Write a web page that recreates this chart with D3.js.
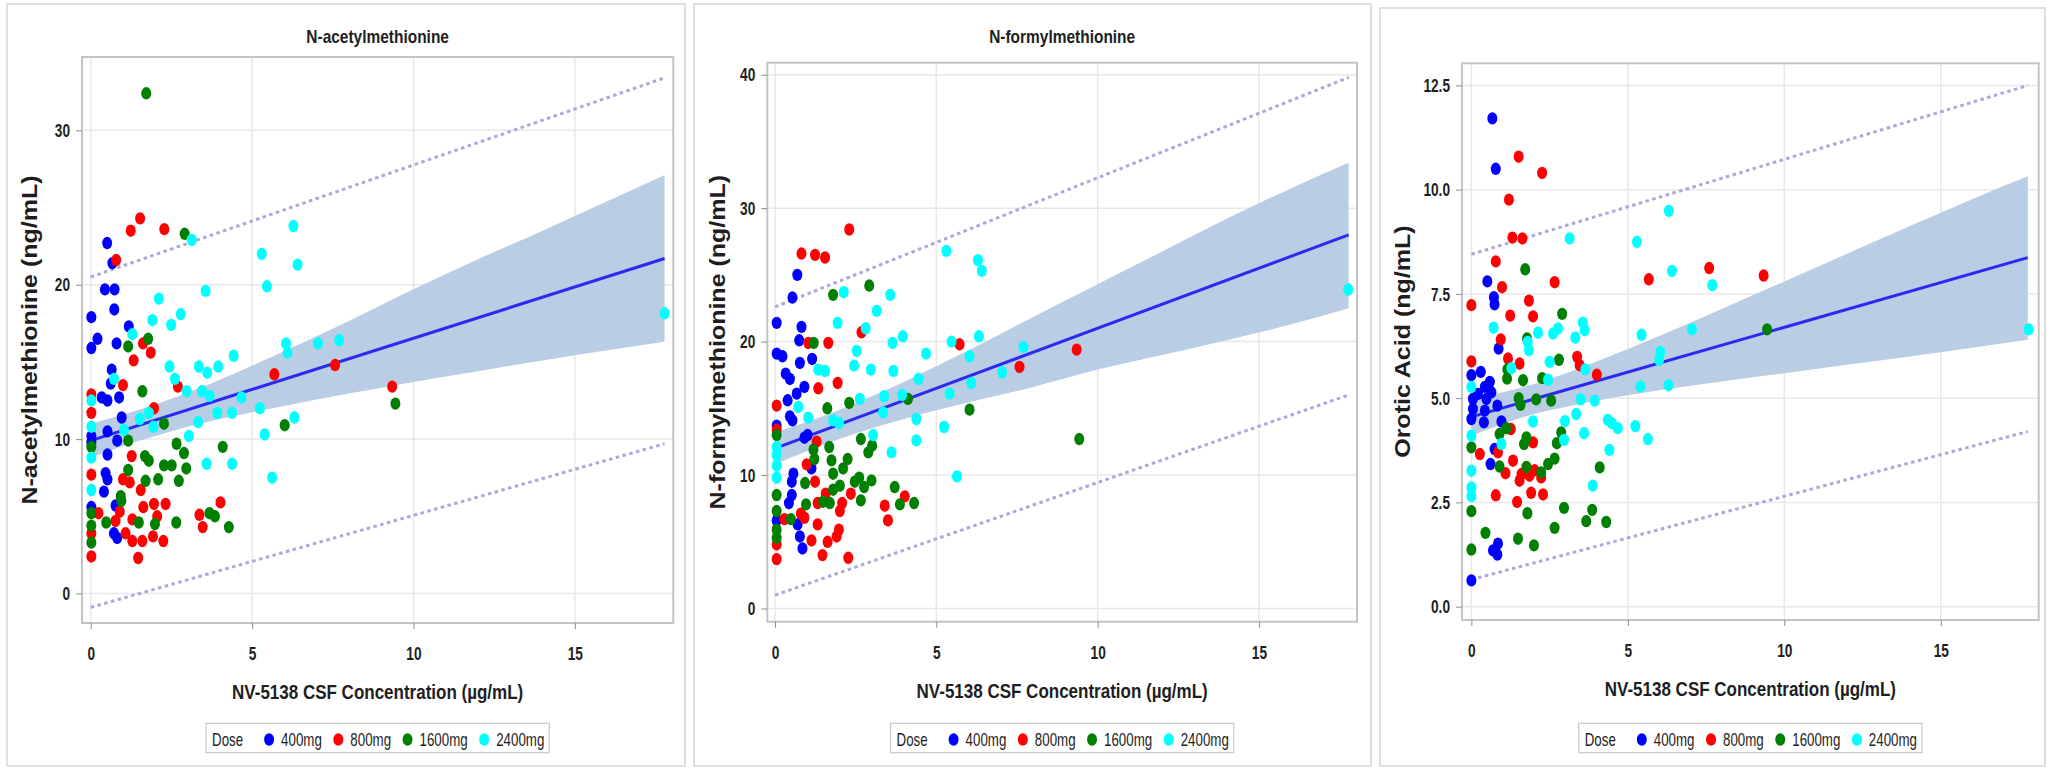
<!DOCTYPE html>
<html>
<head>
<meta charset="utf-8">
<script src="https://cdn.jsdelivr.net/npm/d3@7"></script>
<style>
  body { margin: 0; background: #fff; }
  svg { display: block; font-family: "Liberation Sans", Arial, sans-serif; }
</style>
</head>
<body>
<svg id="chart" width="2047" height="768"></svg>
<script>
// dose groups
const doses = ["400mg", "800mg", "1600mg", "2400mg"];
const doseColors = ["#0000ff", "#ff0000", "#008000", "#00ffff"];

// tick values
const xTicks = [0, 5, 10, 15];
const acetylYTicks = [0, 10, 20, 30];
const formylYTicks = [0, 10, 20, 30, 40];
const oroticYTicks = [0, 2.5, 5, 7.5, 10, 12.5];

// N-acetylmethionine points [CSF conc, ng/mL]
const acetyl400 = [[0.51,22.7],[0.67,21.4],[0.44,19.7],[0.74,19.7],[0.73,18.4],[0.02,17.9],[1.18,17.3],[0.21,16.5],[0.80,16.2],[0.02,15.9],[0.65,14.5],[0.62,13.6],[0.34,12.7],[0.52,12.5],[0.88,12.7],[0.96,11.4],[0.52,10.5],[0.82,9.9],[0.02,10.2],[0.02,9.8],[0.52,9.0],[0.46,7.8],[0.52,7.4],[0.41,6.6],[0.02,5.6],[0.77,5.7],[0.72,3.9],[0.82,3.6]];
const acetyl800 = [[1.53,24.3],[1.24,23.5],[2.28,23.6],[0.79,21.6],[1.62,16.2],[1.86,15.6],[1.33,15.1],[1.0,13.5],[2.70,13.4],[5.69,14.2],[7.57,14.8],[0.02,12.9],[0.02,11.7],[1.96,12.0],[1.27,8.9],[0.02,7.7],[1.0,7.4],[1.21,7.2],[1.55,6.7],[4.02,5.9],[1.96,5.8],[2.32,5.8],[1.63,5.6],[0.90,5.3],[0.24,5.2],[2.06,5.0],[3.37,5.1],[3.47,4.3],[0.77,4.7],[1.29,4.8],[0.02,3.9],[1.08,3.9],[1.29,3.4],[1.60,3.4],[1.93,3.7],[2.25,3.4],[0.02,2.4],[1.47,2.3],[9.34,13.4]];
const acetyl1600 = [[1.72,32.4],[2.91,23.3],[1.78,16.5],[1.16,16.0],[1.60,13.1],[2.27,11.0],[6.01,10.9],[1.16,9.9],[0.02,9.5],[2.66,9.7],[2.89,9.1],[4.09,9.5],[1.68,8.9],[1.80,8.6],[2.27,8.3],[2.51,8.3],[2.96,8.1],[1.16,8.0],[1.70,7.3],[2.09,7.4],[2.73,7.3],[0.93,6.3],[0.95,6.0],[0.02,5.2],[3.68,5.2],[3.85,5.0],[4.28,4.3],[2.65,4.6],[0.48,4.6],[1.49,4.6],[1.99,4.5],[0.02,4.4],[0.02,3.3],[9.44,12.3]];
const acetyl2400 = [[3.13,22.9],[6.28,23.8],[5.30,22.0],[6.41,21.3],[5.46,19.9],[3.56,19.6],[2.11,19.1],[2.79,18.1],[1.91,17.7],[2.49,17.4],[1.29,16.8],[6.05,16.2],[7.04,16.2],[7.70,16.4],[6.1,15.6],[4.43,15.4],[2.44,14.7],[3.35,14.7],[3.61,14.3],[3.95,14.7],[0.72,13.9],[2.61,13.9],[2.97,13.1],[3.45,13.1],[3.69,12.8],[4.67,12.7],[0.02,12.5],[5.24,12.0],[1.52,11.3],[1.80,11.7],[3.92,11.7],[4.38,11.7],[3.33,11.1],[1.94,10.8],[0.02,10.8],[1.03,10.6],[6.31,11.4],[5.39,10.3],[3.04,10.2],[0.02,8.8],[3.59,8.4],[4.38,8.4],[5.62,7.5],[0.02,6.7],[17.78,18.15]];

// N-formylmethionine points
const formyl400 = [[0.69,25.0],[0.54,23.3],[0.05,21.4],[0.82,21.1],[0.75,20.1],[0.05,19.1],[0.23,18.9],[0.77,18.4],[1.15,18.7],[0.33,17.6],[0.46,17.2],[0.91,16.6],[0.67,16.1],[0.39,15.6],[0.46,14.4],[0.54,14.1],[0.05,13.7],[0.91,12.8],[1.01,13.0],[1.13,10.5],[0.57,10.1],[0.52,9.5],[0.52,8.5],[0.43,7.9],[0.05,6.6],[0.70,6.3],[0.77,5.4],[0.85,4.5]];
const formyl800 = [[2.30,28.4],[0.82,26.6],[1.24,26.5],[1.55,26.3],[2.68,20.7],[1.03,19.9],[1.65,19.9],[5.72,19.8],[1.94,16.9],[1.34,16.5],[7.58,18.1],[0.05,15.2],[0.05,13.4],[1.29,12.5],[0.98,10.8],[1.24,9.5],[1.57,8.6],[2.35,8.6],[4.02,8.4],[1.32,7.9],[2.08,7.9],[3.40,7.7],[2.01,7.3],[0.80,7.1],[3.50,6.6],[0.29,6.7],[0.91,6.8],[1.32,6.3],[1.98,5.9],[1.13,5.1],[1.91,5.4],[1.63,5.0],[0.05,4.8],[1.47,4.0],[2.27,3.8],[0.05,3.7],[9.35,19.4]];
const formyl1600 = [[2.92,24.2],[1.80,23.5],[1.20,19.9],[4.12,15.7],[2.30,15.4],[1.62,15.0],[6.03,14.9],[0.05,13.0],[2.66,12.7],[3.01,12.2],[2.89,11.7],[1.68,12.1],[1.19,11.9],[1.22,11.2],[1.75,11.1],[2.25,11.2],[2.11,10.5],[1.80,10.1],[0.93,9.4],[2.01,9.2],[2.47,9.5],[2.61,9.8],[2.76,9.1],[2.99,9.6],[3.71,9.1],[1.80,8.9],[0.05,8.5],[0.96,7.8],[1.49,8.0],[1.70,7.9],[2.66,8.1],[3.87,7.8],[4.31,7.9],[0.05,7.3],[0.49,6.7],[0.05,5.9],[0.05,5.3],[9.43,12.7]];
const formyl2400 = [[5.31,26.8],[6.29,26.1],[6.41,25.3],[2.13,23.7],[3.57,23.5],[3.15,22.3],[1.94,21.4],[2.81,21.0],[3.96,20.4],[6.32,20.4],[3.64,19.9],[5.47,20.0],[7.70,19.6],[2.53,19.3],[4.68,19.1],[6.03,18.9],[2.45,18.2],[1.34,17.9],[1.55,17.8],[2.97,17.9],[3.67,17.8],[4.45,17.2],[7.04,17.7],[6.08,16.9],[5.41,16.1],[3.94,16.0],[3.38,15.9],[2.63,15.7],[0.72,15.1],[3.35,14.7],[1.03,14.3],[1.80,14.1],[1.98,13.9],[4.38,14.2],[5.24,13.6],[3.04,13.0],[4.38,12.6],[0.05,12.1],[0.05,11.5],[3.61,11.7],[0.05,10.7],[0.05,9.8],[5.64,9.9],[17.77,23.9]];

// Orotic acid points
const orotic400 = [[0.67,11.71],[0.78,10.50],[0.51,7.80],[0.72,7.42],[0.74,7.25],[0.87,6.19],[0.0,5.55],[0.30,5.63],[0.59,5.39],[0.43,5.27],[0.64,5.14],[0.05,4.98],[0.21,5.10],[0.48,4.98],[0.83,4.82],[0.05,4.74],[0.43,4.70],[0.0,4.50],[0.40,4.42],[0.96,4.44],[0.74,3.78],[0.61,3.42],[0.85,1.51],[0.69,1.35],[0.83,1.25],[0.0,0.63]];
const orotic800 = [[1.51,10.79],[2.26,10.40],[1.20,9.76],[1.31,8.85],[1.63,8.83],[0.78,8.28],[7.60,8.12],[5.67,7.85],[0.98,7.66],[2.66,7.78],[0.0,7.23],[1.84,7.34],[1.24,6.98],[1.97,6.96],[0.94,6.41],[0.0,5.88],[1.17,5.95],[1.54,5.83],[3.38,5.99],[3.46,5.79],[4.01,5.56],[1.26,4.26],[1.97,3.94],[0.27,3.66],[0.85,3.70],[1.33,3.50],[1.09,3.20],[1.60,3.18],[2.02,3.27],[1.86,3.14],[2.23,3.10],[1.54,3.02],[0.78,2.67],[1.91,2.73],[2.29,2.69],[1.46,2.51],[9.34,7.94]];
const orotic1600 = [[1.72,8.09],[2.90,7.02],[1.78,6.43],[2.80,5.92],[1.15,5.69],[1.14,5.47],[1.65,5.43],[2.26,5.48],[1.51,5.00],[1.57,4.84],[2.07,4.97],[2.55,4.94],[1.12,4.28],[0.90,4.14],[0.0,3.82],[1.76,4.06],[1.68,3.90],[2.87,4.18],[2.73,3.92],[0.90,3.36],[2.45,3.42],[2.66,3.55],[1.76,3.35],[2.23,3.22],[4.10,3.34],[0.0,2.29],[1.79,2.24],[2.96,2.37],[3.86,2.32],[3.67,2.05],[4.31,2.03],[2.66,1.89],[0.45,1.77],[1.49,1.63],[2.00,1.47],[0.0,1.37],[9.45,6.65]];
const orotic2400 = [[6.31,9.49],[3.14,8.83],[5.29,8.75],[6.41,8.05],[7.70,7.71],[0.71,6.69],[2.13,6.57],[2.61,6.55],[2.77,6.67],[3.56,6.81],[3.62,6.63],[3.32,6.45],[5.44,6.52],[7.05,6.65],[1.84,6.15],[1.80,6.35],[6.04,6.11],[6.00,5.92],[1.28,5.72],[2.45,5.44],[2.50,5.87],[3.64,5.69],[5.40,5.28],[6.30,5.31],[0.0,5.27],[3.49,4.97],[3.94,4.94],[3.35,4.62],[1.97,4.44],[2.99,4.45],[4.36,4.48],[4.49,4.40],[4.68,4.28],[5.24,4.33],[5.64,4.02],[3.60,4.16],[0.0,4.10],[0.96,3.90],[2.96,4.00],[4.41,3.76],[0.0,3.26],[3.88,2.90],[0.0,2.86],[0.0,2.65],[17.81,6.65]];

// regression fit, confidence band and prediction limits
const lineX = [0, 17.78];
const bandX = [0, 1, 2, 3, 4, 6, 8, 10, 12, 14, 16, 17.78];
const acetylFit = [9.9, 21.7];
const acetylPredLo = [-0.9, 9.7];
const acetylPredHi = [20.5, 33.4];
const acetylBandLo = [8.8, 9.55, 10.2, 10.8, 11.3, 12.15, 12.95, 13.7, 14.4, 15.1, 15.75, 16.3];
const acetylBandHi = [11.0, 11.6, 12.25, 13.0, 13.85, 15.7, 17.65, 19.7, 21.65, 23.5, 25.4, 27.1];
const formylFit = [12.0, 28.0];
const formylPredLo = [1.0, 16.0];
const formylPredHi = [22.6, 39.8];
const formylBandLo = [10.8, 11.8, 12.7, 13.5, 14.2, 15.45, 16.6, 17.9, 19.0, 20.1, 21.3, 22.5];
const formylBandHi = [13.2, 14.0, 14.9, 15.9, 17.0, 19.35, 21.85, 24.3, 26.75, 29.2, 31.5, 33.4];
const oroticFit = [4.55, 8.37];
const oroticPredLo = [0.65, 4.2];
const oroticPredHi = [8.45, 12.5];
const oroticBandLo = [4.10, 4.38, 4.62, 4.79, 4.94, 5.19, 5.40, 5.60, 5.80, 6.00, 6.21, 6.40];
const oroticBandHi = [5.00, 5.14, 5.34, 5.59, 5.88, 6.49, 7.14, 7.80, 8.46, 9.12, 9.77, 10.32];

const panels = [
  {title: "N-acetylmethionine", yLabel: "N-acetylmethionine (ng/mL)",
   series: [acetyl400, acetyl800, acetyl1600, acetyl2400], yTicks: acetylYTicks, yFmt: d3.format("d"),
   fit: acetylFit, predLo: acetylPredLo, predHi: acetylPredHi, bandLo: acetylBandLo, bandHi: acetylBandHi,
   box: [7, 4, 685, 766], plot: {l: 82, r: 673.3, t: 57, b: 623}, xDom: [-0.27, 18.05], yDom: [-1.91, 34.75], yTitleX: 30},
  {title: "N-formylmethionine", yLabel: "N-formylmethionine (ng/mL)",
   series: [formyl400, formyl800, formyl1600, formyl2400], yTicks: formylYTicks, yFmt: d3.format("d"),
   fit: formylFit, predLo: formylPredLo, predHi: formylPredHi, bandLo: formylBandLo, bandHi: formylBandHi,
   box: [694, 4, 1371, 766], plot: {l: 767.3, r: 1357, t: 62.7, b: 621.7}, xDom: [-0.24, 18.04], yDom: [-0.99, 40.9], yTitleX: 718},
  {title: null, yLabel: "Orotic Acid (ng/mL)",
   series: [orotic400, orotic800, orotic1600, orotic2400], yTicks: oroticYTicks, yFmt: d3.format(".1f"),
   fit: oroticFit, predLo: oroticPredLo, predHi: oroticPredHi, bandLo: oroticBandLo, bandHi: oroticBandHi,
   box: [1380, 8, 2045, 766], plot: {l: 1462, r: 2038.7, t: 63.3, b: 620}, xDom: [-0.3, 18.13], yDom: [-0.32, 13.03], yTitleX: 1403}
];

const svg = d3.select("#chart");

// horizontal text squeezed like the original picture
function squash(g, x, y, str, size, sx, weight, anchor) {
  return g.append("text")
    .attr("transform", `translate(${x},${y}) scale(${sx},1)`)
    .attr("text-anchor", anchor)
    .attr("font-size", size)
    .attr("font-weight", weight)
    .attr("fill", "#1e1e1e")
    .text(str);
}

panels.forEach(function (p) {
  const g = svg.append("g");
  const P = p.plot;

  // panel border
  g.append("rect")
    .attr("x", p.box[0]).attr("y", p.box[1])
    .attr("width", p.box[2] - p.box[0]).attr("height", p.box[3] - p.box[1])
    .attr("fill", "#fff").attr("stroke", "#d6d6d6").attr("stroke-width", 1.5);

  const x = d3.scaleLinear().domain(p.xDom).range([P.l, P.r]);
  const y = d3.scaleLinear().domain(p.yDom).range([P.b, P.t]);

  // grid
  g.append("g").selectAll("line").data(xTicks).join("line")
    .attr("x1", d => x(d)).attr("x2", d => x(d)).attr("y1", P.t).attr("y2", P.b)
    .attr("stroke", "#e8e8e8").attr("stroke-width", 1.5);
  g.append("g").selectAll("line").data(p.yTicks).join("line")
    .attr("x1", P.l).attr("x2", P.r).attr("y1", d => y(d)).attr("y2", d => y(d))
    .attr("stroke", "#e8e8e8").attr("stroke-width", 1.5);

  // confidence band
  const band = bandX.map((bx, i) => ({x: bx, lo: p.bandLo[i], hi: p.bandHi[i]}));
  g.append("path").datum(band)
    .attr("fill", "#b9cde4")
    .attr("d", d3.area().curve(d3.curveMonotoneX).x(d => x(d.x)).y0(d => y(d.lo)).y1(d => y(d.hi)));

  const line = d3.line().x(d => x(d[0])).y(d => y(d[1]));

  // fit line
  g.append("path").datum(lineX.map((lx, i) => [lx, p.fit[i]]))
    .attr("fill", "none").attr("stroke", "#2a2af0").attr("stroke-width", 3).attr("d", line);

  // prediction limits
  [p.predLo, p.predHi].forEach(function (pl) {
    g.append("path").datum(lineX.map((lx, i) => [lx, pl[i]]))
      .attr("fill", "none").attr("stroke", "#a9a9dc").attr("stroke-width", 3)
      .attr("stroke-dasharray", "3.5,3.5").attr("d", line);
  });

  // points
  p.series.forEach(function (pts, k) {
    g.append("g").selectAll("ellipse").data(pts).join("ellipse")
      .attr("cx", d => x(d[0])).attr("cy", d => y(d[1]))
      .attr("rx", 5).attr("ry", 6.2)
      .attr("fill", doseColors[k]);
  });

  // frame
  g.append("rect")
    .attr("x", P.l).attr("y", P.t).attr("width", P.r - P.l).attr("height", P.b - P.t)
    .attr("fill", "none").attr("stroke", "#c4c4c4").attr("stroke-width", 2);

  // axes
  const xa = g.append("g").attr("transform", `translate(0,${P.b})`)
    .call(d3.axisBottom(x).tickValues(xTicks).tickSize(6).tickFormat(d3.format("d")));
  xa.select(".domain").remove();
  xa.selectAll("line").attr("stroke", "#8c8c8c");
  xa.selectAll("text").attr("y", 37).attr("dy", null)
    .attr("transform", "scale(0.72,1)")
    .attr("font-size", 19).attr("font-weight", "bold").attr("fill", "#1e1e1e")
    .attr("font-family", "Liberation Sans, Arial, sans-serif");

  const ya = g.append("g").attr("transform", `translate(${P.l},0)`)
    .call(d3.axisLeft(y).tickValues(p.yTicks).tickSize(6).tickFormat(p.yFmt));
  ya.select(".domain").remove();
  ya.selectAll("line").attr("stroke", "#8c8c8c");
  ya.selectAll("text").attr("x", -12 / 0.72)
    .attr("transform", "scale(0.72,1)")
    .attr("font-size", 19).attr("font-weight", "bold").attr("fill", "#1e1e1e")
    .attr("font-family", "Liberation Sans, Arial, sans-serif");

  const cx = (P.l + P.r) / 2;

  // title
  if (p.title) squash(g, cx, 43, p.title, 18, 0.86, "bold", "middle");

  // axis titles
  squash(g, cx, P.b + 76, "NV-5138 CSF Concentration (\u00b5g/mL)", 21, 0.81, "bold", "middle");
  g.append("text")
    .attr("transform", `translate(${p.yTitleX},${(P.t + P.b) / 2}) scale(0.85,1) rotate(-90)`)
    .attr("text-anchor", "middle").attr("dominant-baseline", "central")
    .attr("font-size", 25).attr("font-weight", "bold").attr("fill", "#1e1e1e")
    .text(p.yLabel);

  // legend
  const lg = g.append("g");
  const lbox = lg.append("rect").attr("y", 723.3).attr("height", 29.4)
    .attr("fill", "#fff").attr("stroke", "#c8c8c8").attr("stroke-width", 1.2);
  const sx = 0.74;
  let pos = 6;
  const dose = squash(lg, pos, 746, "Dose", 18, sx, "normal", "start");
  pos += dose.node().getComputedTextLength() * sx + 26;
  doses.forEach(function (name, k) {
    lg.append("ellipse").attr("cx", pos).attr("cy", 739.5).attr("rx", 5).attr("ry", 6.2)
      .attr("fill", doseColors[k]);
    const t = squash(lg, pos + 12, 746, name, 18, sx, "normal", "start");
    pos += 12 + t.node().getComputedTextLength() * sx + 16.5;
  });
  const lw = pos - 16.5 + 5;
  lbox.attr("x", 0).attr("width", lw);
  lg.attr("transform", `translate(${cx - lw / 2},0)`);
});
</script>
</body>
</html>
